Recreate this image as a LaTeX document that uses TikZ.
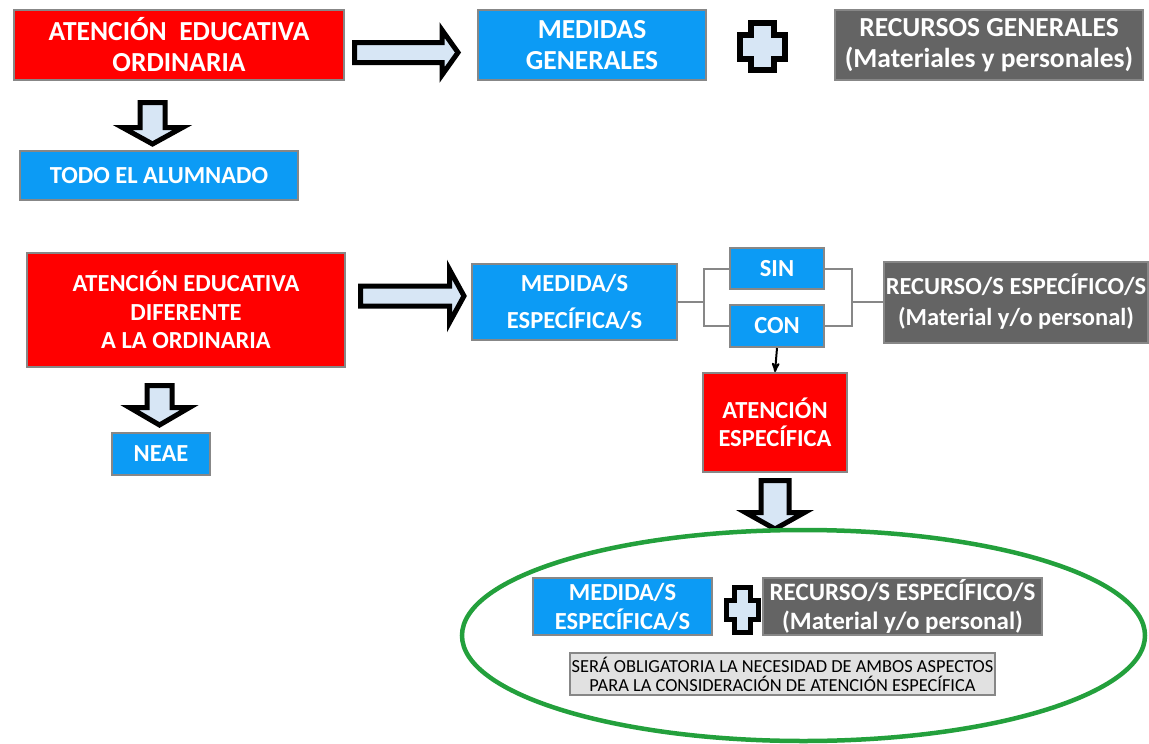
\documentclass[tikz,border=0pt]{standalone}
\usepackage{fontspec}
\setmainfont{Carlito}
\usetikzlibrary{arrows,shapes.geometric}
\definecolor{rojo}{RGB}{255,0,0}
\definecolor{azul}{RGB}{12,155,245}
\definecolor{gris}{RGB}{100,100,100}
\definecolor{borde}{RGB}{135,135,135}
\definecolor{celeste}{RGB}{215,230,245}
\definecolor{verde}{RGB}{35,160,60}
\definecolor{nota}{RGB}{225,225,225}
\tikzset{
	caja/.style = {rectangle, draw=borde, line width=2pt, align=center,
		inner sep=0pt, text=white},
	caja_r/.style = {caja, fill=rojo},
	caja_a/.style = {caja, fill=azul},
	caja_g/.style = {caja, fill=gris},
	caja_n/.style = {caja, fill=nota, text=black,
		font=\fontsize{18.4}{19}\selectfont},
	letra_g/.style = {font=\bfseries\fontsize{27.5}{31}\selectfont},
	letra_m/.style = {font=\bfseries\fontsize{24.5}{29}\selectfont},
	flecha/.style = {draw=black, fill=celeste, line width=5pt, line join=miter},
	mas/.style = {draw=black, fill=celeste, line width=6pt, line join=miter},
	union/.style = {draw=borde, line width=2pt}
}
\begin{document}
\begin{tikzpicture}[x=1pt,y=-1pt]
\useasboundingbox (0,0) rectangle (1149,744);
% fila de arriba
\node [caja_r, letra_g, minimum width=330, minimum height=70] (ordinaria) at (179,45)
	{ATENCIÓN\ \ EDUCATIVA\\ORDINARIA};
\coordinate (f1) at (406,52.5);
\draw [flecha, shift={(f1)}] (-51.5,-10) -- (36,-10) -- (36,-22.5) -- (52,0)
	-- (36,22.5) -- (36,10) -- (-51.5,10) -- cycle;
\node [caja_a, letra_g, minimum width=228, minimum height=70] (medgen) at (592,45)
	{MEDIDAS\\GENERALES};
\coordinate (mas1) at (762.5,46.5);
\draw [mas, shift={(mas1)}] (-11.5,-23.5) -- (11.5,-23.5) -- (11.5,-12) -- (22.5,-12)
	-- (22.5,12) -- (11.5,12) -- (11.5,23.5) -- (-11.5,23.5) -- (-11.5,12)
	-- (-22.5,12) -- (-22.5,-12) -- (-11.5,-12) -- cycle;
\node [caja_g, letra_g, minimum width=308, minimum height=70] (recgen) at (989,45)
	{RECURSOS GENERALES\\(Materiales y personales)};
\coordinate (f2) at (152.5,123);
\draw [flecha, shift={(f2)}] (-12.5,-20.5) -- (12.5,-20.5) -- (12.5,4.5) -- (30,4.5)
	-- (0,21) -- (-30,4.5) -- (-12.5,4.5) -- cycle;
\node [caja_a, letra_m, minimum width=278, minimum height=49] (todo) at (159,175.5)
	{TODO EL ALUMNADO};
% fila de abajo
\node [caja_r, font=\bfseries\fontsize{24.5}{28.5}\selectfont, minimum width=318,
	minimum height=114] (diferente) at (186,310)
	{ATENCIÓN EDUCATIVA\\DIFERENTE\\A LA ORDINARIA};
\coordinate (f3) at (412,296);
\draw [flecha, shift={(f3)}] (-51.5,-10) -- (37.5,-10) -- (37.5,-26.5) -- (52,0)
	-- (37.5,26.5) -- (37.5,10) -- (-51.5,10) -- cycle;
\coordinate (f4) at (159.5,405);
\draw [flecha, shift={(f4)}] (-12.5,-19.5) -- (12.5,-19.5) -- (12.5,2.5) -- (30,2.5)
	-- (0,20) -- (-30,2.5) -- (-12.5,2.5) -- cycle;
\node [caja_a, letra_m, minimum width=98, minimum height=42] (neae) at (161,454) {NEAE};
\node [caja_a, font=\bfseries\fontsize{24.5}{37}\selectfont, minimum width=205,
	minimum height=76] (medesp) at (574.5,302) {MEDIDA/S\\ESPECÍFICA/S};
\node [caja_a, letra_m, minimum width=94, minimum height=41] (sin) at (777,268.5) {SIN};
\node [caja_a, letra_m, minimum width=94, minimum height=42] (con) at (777,326) {CON};
\node [caja_g, font=\bfseries\fontsize{24.5}{31}\selectfont, minimum width=264,
	minimum height=81] (recesp) at (1016,302)
	{RECURSO/S ESPECÍFICO/S\\(Material y/o personal)};
\coordinate (izq) at (704,302);
\coordinate (der) at (852,302);
\draw [union] (medesp.east) -- (izq);
\draw [union] (sin.west) -| (izq) |- (con.west);
\draw [union] (sin.east) -| (der) |- (con.east);
\draw [union] (der) -- (recesp.west);
\node [caja_r, font=\bfseries\fontsize{24.5}{28}\selectfont, minimum width=144,
	minimum height=99] (atesp) at (775,422.5) {ATENCIÓN\\ESPECÍFICA};
\draw [->, >=stealth', line width=2pt] (con.south) -- (atesp.north);
\coordinate (f5) at (775,505);
\draw [flecha, shift={(f5)}] (-14,-24.5) -- (14,-24.5) -- (14,7.5) -- (29.5,7.5)
	-- (0,24) -- (-29.5,7.5) -- (-14,7.5) -- cycle;
% dentro del ovalo
\node [ellipse, draw=verde, line width=4.5pt, minimum width=683, minimum height=211,
	inner sep=0pt] (grupo) at (803.5,635.5) {};
\node [caja_a, letra_m, minimum width=179, minimum height=57] (medesp2) at (622.5,606.5)
	{MEDIDA/S\\ESPECÍFICA/S};
\coordinate (mas2) at (742.5,610);
\draw [mas, line width=5pt, shift={(mas2)}] (-8,-22.5) -- (8,-22.5) -- (8,-9.5) -- (16,-9.5)
	-- (16,9.5) -- (8,9.5) -- (8,22.5) -- (-8,22.5) -- (-8,9.5)
	-- (-16,9.5) -- (-16,-9.5) -- (-8,-9.5) -- cycle;
\node [caja_g, font=\bfseries\fontsize{25}{29}\selectfont, minimum width=279,
	minimum height=57] (recesp2) at (902.5,606.5)
	{RECURSO/S ESPECÍFICO/S\\(Material y/o personal)};
\node [caja_n, minimum width=425, minimum height=42] (aviso) at (782.5,674)
	{SERÁ OBLIGATORIA LA NECESIDAD DE AMBOS ASPECTOS\\PARA LA CONSIDERACIÓN DE ATENCIÓN ESPECÍFICA};
\end{tikzpicture}
\end{document}
